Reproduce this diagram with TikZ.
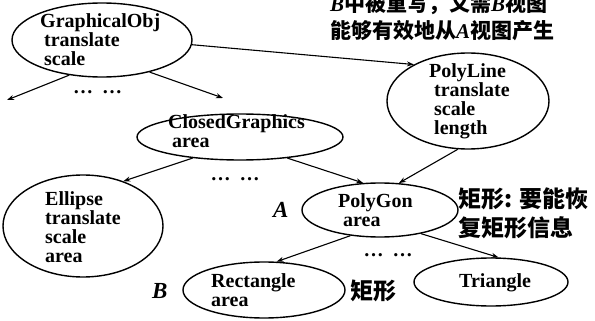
\documentclass[tikz,border=0pt]{standalone}
\usepackage{fontspec}
\setmainfont{Liberation Serif}
\newfontfamily\cjk{Noto Sans CJK SC}
\usetikzlibrary{shapes.geometric,arrows.meta}
\newcommand\myBI[1]{{\rmfamily\bfseries\itshape #1}}
\begin{document}
\begin{tikzpicture}[x=1pt,y=-1pt,
 obj/.style={draw,ellipse,line width=1.4pt,inner sep=0pt},
 txt/.style={anchor=north west,inner sep=0pt,align=left,font=\fontsize{20}{19}\selectfont\bfseries},
 arr/.style={-{Stealth[length=7pt,width=5pt]},line width=1.1pt},
 dots/.style={font=\fontsize{20}{20}\selectfont\bfseries,inner sep=0pt},
 lab/.style={anchor=base west,font=\fontsize{23}{23}\selectfont\bfseries\itshape,inner sep=0pt},
 cn/.style={anchor=base west,inner sep=0pt},
 cnr/.style={cn,font=\fontsize{23}{23}\selectfont\cjk\bfseries},
 cnt/.style={cn,font=\fontsize{21}{21}\selectfont\cjk\bfseries}]
\useasboundingbox (0,0) rectangle (595,321);
% ellipses
\node[obj,minimum width=180pt,minimum height=74pt] (go) at (102,40) {};
\node[obj,minimum width=206pt,minimum height=46pt] (cg) at (240,137) {};
\node[obj,minimum width=162pt,minimum height=96pt] (pl) at (468,101) {};
\node[obj,minimum width=160pt,minimum height=102pt] (el) at (83,226) {};
\node[obj,minimum width=156pt,minimum height=54pt] (pg) at (380,210) {};
\node[obj,minimum width=162pt,minimum height=56pt] (re) at (264,290) {};
\node[obj,minimum width=154pt,minimum height=48pt] (tr) at (491,282) {};
% texts in ellipses
\node[txt] (tgo) at (40,13.5) {GraphicalObj\\\hspace*{4pt}translate\\\hspace*{4pt}scale};
\node[txt] (tcg) at (168,114.5) {ClosedGraphics\\\hspace*{4pt}area};
\node[txt] (tpl) at (429,63.5) {PolyLine\\\hspace*{5pt}translate\\\hspace*{5pt}scale\\\hspace*{5pt}length};
\node[txt] (tel) at (45,191.5) {Ellipse\\translate\\scale\\area};
\node[txt] (tpg) at (338,193.5) {PolyGon\\\hspace*{5pt}area};
\node[txt] (tre) at (211,273.5) {Rectangle\\area};
\node[txt] (ttr) at (459,273.5) {Triangle};
% free ends
\coordinate (e1) at (7,100);
\coordinate (e2) at (223,98);
% arrows
\draw[arr] (go.-133) -- (e1);
\draw[arr] (go.-34) -- (e2);
\draw[arr] (go.-3) -- (pl.146);
\draw[arr] (cg.-156) -- (el.48);
\draw[arr] (cg.-24) -- (pg.122);
\draw[arr] (pl.-102) -- (pg.55);
\draw[arr] (pg.-139) -- (re.66);
\draw[arr] (pg.-30) -- (tr.73);
% dots
\node[dots] (d1) at (97.5,92) {…\hspace{9pt}…};
\node[dots] (d2) at (235,179) {…\hspace{9pt}…};
\node[dots] (d3) at (388,255) {…\hspace{9pt}…};
% labels
\node[lab] (la) at (273,217) {A};
\node[lab] (lb) at (152,298) {B};
\node[cnr] (c1) at (350,299) {矩形};
\node[cnr] (c2) at (458,207) {矩形: 要能恢};
\node[cnr] (c3) at (458,236.5) {复矩形信息};
\node[cnt] (c4) at (330,12) {\myBI{B}中被重写，又需\myBI{B}视图};
\node[cnt] (c5) at (330,39) {能够有效地从\myBI{A}视图产生};
\end{tikzpicture}
\end{document}
